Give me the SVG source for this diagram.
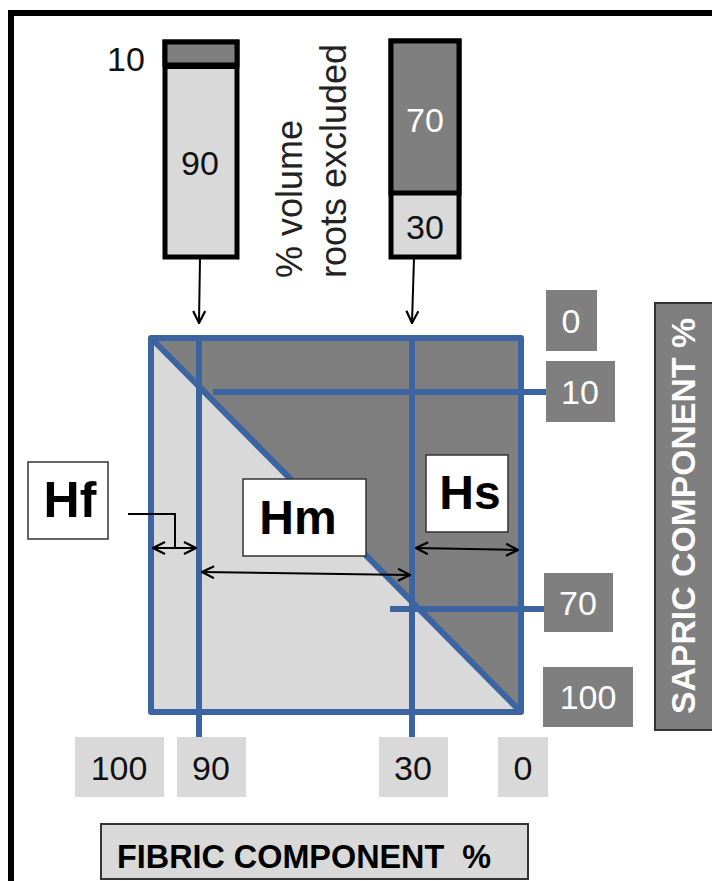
<svg xmlns="http://www.w3.org/2000/svg" width="712" height="881" viewBox="0 0 712 881">
<style>
.num{font-family:"Liberation Sans",Arial,sans-serif;font-size:34px;text-anchor:middle}
.w{fill:#ffffff}
.k{fill:#111111}
.bold{font-family:"Liberation Sans",Arial,sans-serif;font-weight:bold}
.blue{stroke:#3b64a0;stroke-width:6;fill:none}
.conn{stroke:#000;stroke-width:2;fill:none}
.dk{fill:#7f7f7f}
.lt{fill:#d9d9d9}
</style>
<defs>
<marker id="ah" viewBox="0 0 14 14" refX="13" refY="7" markerWidth="14" markerHeight="14" markerUnits="userSpaceOnUse" orient="auto-start-reverse">
<polyline points="1,1 13,7 1,13" fill="none" stroke="#000" stroke-width="2.2"/>
</marker>
</defs>
<rect width="712" height="881" fill="#ffffff"/>
<path d="M11,881 V13 H712" fill="none" stroke="#000" stroke-width="6"/>

<g id="bar-left">
<rect x="165" y="42" width="72" height="215" class="lt" stroke="#000" stroke-width="5"/>
<rect x="165" y="42" width="72" height="23" class="dk" stroke="#000" stroke-width="5"/>
<line x1="165" y1="66" x2="237" y2="66" stroke="#000" stroke-width="6"/>
<text x="200" y="175" class="num k">90</text>
<text x="126" y="71" class="num k">10</text>
</g>
<g id="bar-right">
<rect x="391" y="41" width="68" height="216" class="lt" stroke="#000" stroke-width="5"/>
<rect x="391" y="41" width="68" height="152" class="dk" stroke="#000" stroke-width="5"/>
<text x="425" y="132" class="num w">70</text>
<text x="425" y="239" class="num k">30</text>
</g>
<g id="label-roots">
<text transform="translate(302,278) rotate(-90)" font-family="Liberation Sans,Arial,sans-serif" font-size="36" fill="#222">% volume</text>
<text transform="translate(346,278) rotate(-90)" font-family="Liberation Sans,Arial,sans-serif" font-size="36" fill="#222">roots excluded</text>
</g>

<g id="square">
<polygon points="151,338 521,338 521,712" class="dk"/>
<polygon points="151,338 521,712 151,712" class="lt"/>
<line x1="151" y1="338" x2="521" y2="712" class="blue"/>
<line x1="199" y1="338" x2="199" y2="740" class="blue"/>
<line x1="412" y1="338" x2="412" y2="740" class="blue"/>
<line x1="213" y1="392" x2="548" y2="392" class="blue"/>
<line x1="390" y1="609" x2="546" y2="609" class="blue"/>
<rect x="151" y="338" width="370" height="374" class="blue" stroke-linejoin="round"/>
</g>

<g id="connectors">
<line x1="200" y1="258" x2="199" y2="323" class="conn" marker-end="url(#ah)"/>
<line x1="414" y1="258" x2="412" y2="323" class="conn" marker-end="url(#ah)"/>
<polyline points="128,514 175,514 175,548" class="conn"/>
<line x1="153" y1="548" x2="196" y2="548" class="conn" marker-start="url(#ah)" marker-end="url(#ah)"/>
<line x1="202" y1="572" x2="410" y2="575" class="conn" marker-start="url(#ah)" marker-end="url(#ah)"/>
<line x1="416" y1="548" x2="518" y2="550" class="conn" marker-start="url(#ah)" marker-end="url(#ah)"/>
</g>

<g id="Hf">
<rect x="28" y="462" width="80" height="77" fill="#fff" stroke="#333" stroke-width="1.5"/>
<text x="70" y="517" class="bold" font-size="50" text-anchor="middle" fill="#000">Hf</text>
</g>
<g id="Hm">
<rect x="243" y="479" width="123" height="77" fill="#fff" stroke="#333" stroke-width="1.5"/>
<text x="298" y="534" class="bold" font-size="48" text-anchor="middle" fill="#000">Hm</text>
</g>
<g id="Hs">
<rect x="426" y="455" width="82" height="77" fill="#fff" stroke="#333" stroke-width="1.5"/>
<text x="470" y="509" class="bold" font-size="48" text-anchor="middle" fill="#000">Hs</text>
</g>

<g id="sapric-labels">
<rect x="546" y="290" width="51" height="61" class="dk"/>
<text x="571" y="333" class="num w">0</text>
<rect x="546" y="361" width="69" height="61" class="dk"/>
<text x="580" y="404" class="num w">10</text>
<rect x="544" y="573" width="69" height="59" class="dk"/>
<text x="578" y="615" class="num w">70</text>
<rect x="543" y="667" width="90" height="60" class="dk"/>
<text x="588" y="709" class="num w">100</text>
</g>
<g id="sapric-axis">
<rect x="655" y="303" width="60" height="427" class="dk" stroke="#333" stroke-width="2"/>
<text transform="translate(695,714) rotate(-90)" class="bold" font-size="34" fill="#fff" textLength="396" lengthAdjust="spacingAndGlyphs">SAPRIC COMPONENT %</text>
</g>

<g id="fibric-labels">
<rect x="75" y="737" width="89" height="60" class="lt"/>
<text x="119" y="780" class="num k">100</text>
<rect x="177" y="737" width="69" height="60" class="lt"/>
<text x="211" y="780" class="num k">90</text>
<rect x="379" y="737" width="69" height="60" class="lt"/>
<text x="413" y="780" class="num k">30</text>
<rect x="498" y="737" width="50" height="60" class="lt"/>
<text x="523" y="780" class="num k">0</text>
</g>
<g id="fibric-axis">
<rect x="101" y="824" width="427" height="55" class="lt" stroke="#333" stroke-width="2"/>
<text x="117" y="868" class="bold" font-size="34" fill="#000" textLength="374" lengthAdjust="spacingAndGlyphs">FIBRIC COMPONENT&#160;&#160;%</text>
</g>
</svg>
